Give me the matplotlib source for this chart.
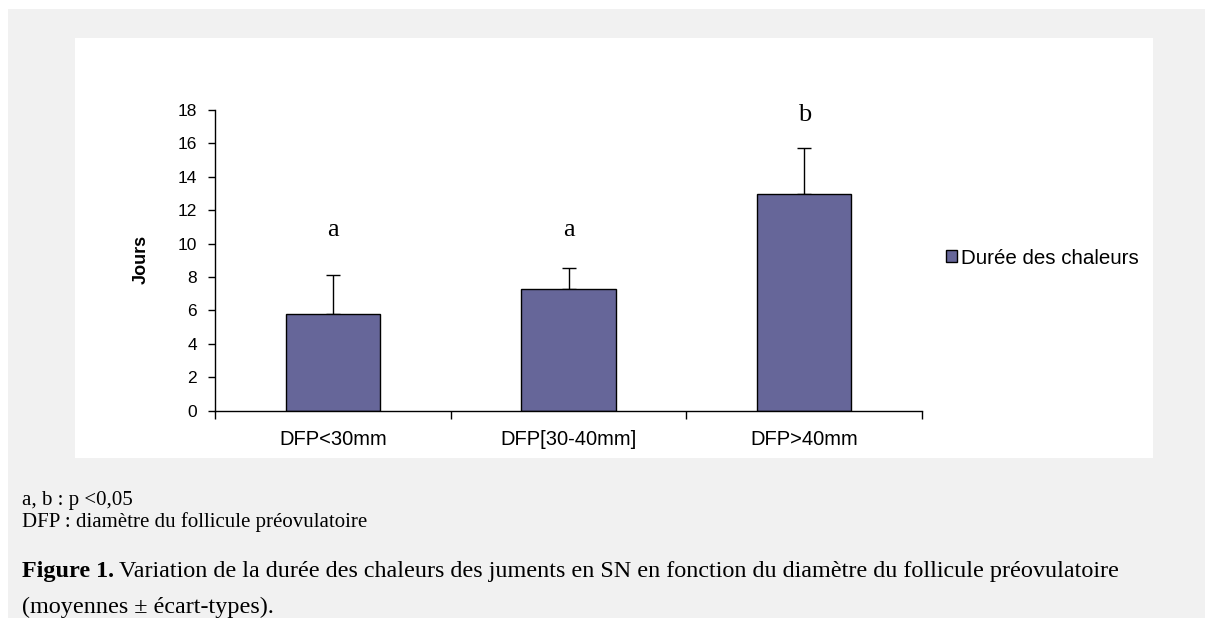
import matplotlib
matplotlib.use("Agg")
import matplotlib.pyplot as plt
from matplotlib.patches import Rectangle
from matplotlib.ticker import FixedLocator

categories = ["DFP<30mm", "DFP[30-40mm]", "DFP>40mm"]
means = [5.8, 7.3, 12.95]
sds = [2.3, 1.25, 2.8]
sig_letters = ["a", "a", "b"]
sig_heights = [10.8, 10.8, 17.7]
series_name = "Durée des chaleurs"
yticks = list(range(0, 19, 2))

W, H = 1205, 618
fig = plt.figure(figsize=(W / 100, H / 100), dpi=100, facecolor="white")

def fx(x):
    return x / W

def fy(y):
    return 1 - y / H

# grey page background and white chart area
fig.patches.append(Rectangle((fx(8), 0), 1 - fx(8), fy(9), transform=fig.transFigure,
                             facecolor="#f1f1f1", edgecolor="none", zorder=-10))
fig.patches.append(Rectangle((fx(75), fy(458)), fx(1153) - fx(75), fy(38) - fy(458),
                             transform=fig.transFigure, facecolor="white",
                             edgecolor="none", zorder=-9))

ax_l, ax_r, ax_b, ax_t = 215, 922, 410.7, 110
ax = fig.add_axes([fx(ax_l), fy(ax_b), fx(ax_r) - fx(ax_l), fy(ax_t) - fy(ax_b)])
ax.set_facecolor("none")

xs = list(range(len(categories)))
bars = ax.bar(xs, means, width=0.4, color="#666699", edgecolor="black",
              linewidth=1.0, label=series_name, zorder=2)
ax.errorbar(xs, means, yerr=[[0] * len(sds), sds], fmt="none", ecolor="black",
            elinewidth=1.0, capsize=5, capthick=1.0, zorder=1)

for x, lab, h in zip(xs, sig_letters, sig_heights):
    ax.text(x, h, lab, ha="center", va="center", fontsize=19,
            family="Liberation Serif")

ax.set_xlim(-0.5, len(categories) - 0.5)
ax.set_ylim(0, 18)
ax.set_yticks(yticks)
ax.set_yticklabels([str(t) for t in yticks], fontsize=12.5, family="Liberation Sans")
ax.set_xticks(xs)
ax.set_xticklabels(categories, fontsize=14.5, family="Liberation Sans")
ax.xaxis.set_minor_locator(FixedLocator([x + 0.5 for x in [-1] + xs]))
ax.tick_params(axis="x", which="major", length=0, pad=14)
ax.tick_params(axis="x", which="minor", length=6, width=1, direction="out")
ax.tick_params(axis="y", length=5, width=1, direction="out", pad=8)

for s in ["top", "right"]:
    ax.spines[s].set_visible(False)
for s in ["left", "bottom"]:
    ax.spines[s].set_linewidth(1.0)
    ax.spines[s].set_color("black")

ax.set_ylabel("Jours", fontsize=13, fontweight="bold", family="Liberation Sans")
ax.yaxis.set_label_coords((150 - ax_l) / (ax_r - ax_l), (ax_b - 259) / (ax_b - ax_t))

fig.legend(handles=[bars], labels=[series_name], loc="center left",
           bbox_to_anchor=(fx(946), fy(258)), bbox_transform=fig.transFigure,
           frameon=False, prop={"family": "Liberation Sans", "size": 14.8},
           handlelength=0.55, handleheight=0.55, handletextpad=0.2,
           borderpad=0, borderaxespad=0)

serif = "Liberation Serif"
fs = 15
fig.text(fx(22), fy(500), "a, b : p <0,05", fontsize=fs, family=serif, va="center")
fig.text(fx(22), fy(522), "DFP : diamètre du follicule préovulatoire", fontsize=fs,
         family=serif, va="center")
fs2 = 17.4
bold = fig.text(fx(22), fy(577), "Figure 1.", fontsize=fs2, family=serif,
                fontweight="bold", va="baseline")
fig.canvas.draw()
ext = bold.get_window_extent()
fig.text(ext.x1 / W + fx(5), fy(577), "Variation de la durée des chaleurs des juments en SN "
         "en fonction du diamètre du follicule préovulatoire", fontsize=fs2, family=serif,
         va="baseline")
fig.text(fx(22), fy(613), "(moyennes ± écart-types).", fontsize=fs2, family=serif,
         va="baseline")

fig.savefig("out.png", dpi=100, facecolor="white")
